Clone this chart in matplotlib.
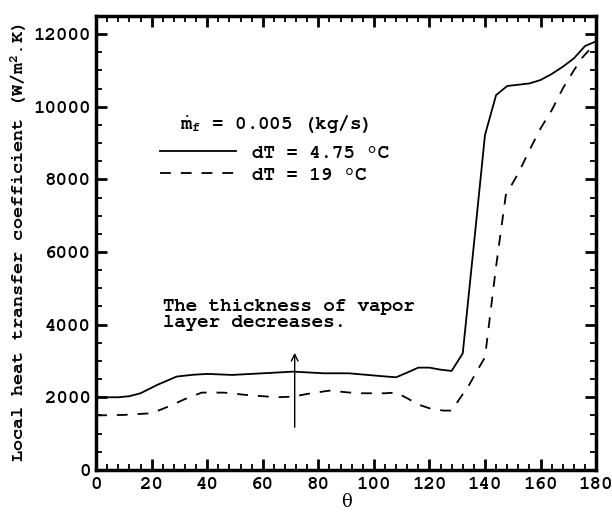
import matplotlib
matplotlib.use("Agg")
import matplotlib.pyplot as plt
from matplotlib.ticker import MultipleLocator
from matplotlib import font_manager

names = sorted({f.name for f in font_manager.fontManager.ttflist})
mono_pref = ['Courier New', 'Nimbus Mono PS', 'FreeMono', 'Courier', 'Liberation Mono']
MONO = next((n for n in mono_pref if n in names), 'Liberation Mono')

plt.rcParams['font.family'] = [MONO, 'DejaVu Sans']
plt.rcParams['font.weight'] = 'bold'
plt.rcParams['mathtext.fontset'] = 'custom'
plt.rcParams['mathtext.rm'] = MONO + ':bold'
plt.rcParams['mathtext.it'] = MONO + ':bold'
plt.rcParams['mathtext.bf'] = MONO + ':bold'

# dT = 4.75 C (solid)
theta_a = [0, 8, 12, 16, 22, 29, 35, 40, 49, 60, 71, 82, 91, 97, 103, 108, 112, 116, 120, 124, 128, 132,
           136, 140, 144, 148, 156, 160, 164, 168, 172, 176, 180]
h_a = [2000, 2000, 2030, 2110, 2340, 2570, 2620, 2643, 2615, 2660, 2706, 2660, 2660, 2620, 2580, 2550,
       2680, 2816, 2816, 2760, 2725, 3210, 6200, 9220, 10320, 10570, 10640, 10735, 10900, 11100, 11330,
       11670, 11800]

# dT = 19 C (dashed)
theta_b = [0, 10, 20, 26, 32, 38, 46, 54, 65, 71, 76, 84, 94, 104, 108, 112, 116, 120, 125, 128, 131,
           134, 137, 140, 144, 147.5, 152, 156, 160, 164, 168, 172, 175, 178, 180]
h_b = [1500, 1514, 1560, 1743, 1950, 2128, 2128, 2064, 2000, 2018, 2092, 2183, 2110, 2110, 2130, 1973,
       1800, 1697, 1633, 1633, 1973, 2300, 2706, 3100, 5600, 7570, 8166, 8800, 9400, 9900, 10500,
       11000, 11350, 11600, 11700]

arrow_x = 71.5
arrow_y0, arrow_y1 = 1100, 3300

fig = plt.figure(figsize=(6.12, 5.13), dpi=100)
ax = fig.add_axes([0.157, 0.084, 0.817, 0.885])

l1, = ax.plot(theta_a, h_a, color='black', lw=1.3, ls='-', label='dT = 4.75 °C')
l2, = ax.plot(theta_b, h_b, color='black', lw=1.3, ls=(0, (6, 5.5)), label='dT = 19 °C')

ax.set_xlim(0, 180)
ax.set_ylim(0, 12500)
ax.xaxis.set_major_locator(MultipleLocator(20))
ax.xaxis.set_minor_locator(MultipleLocator(4))
ax.yaxis.set_major_locator(MultipleLocator(2000))
ax.yaxis.set_minor_locator(MultipleLocator(500))
ax.tick_params(which='both', direction='in', top=True, right=True, labelsize=13.8, width=1.3)
ax.tick_params(which='major', length=8, width=2)
ax.tick_params(which='minor', length=4)
ax.tick_params(axis='x', pad=5)
ax.tick_params(axis='y', pad=4)
for s in ax.spines.values():
    s.set_linewidth(2.5)

ax.set_xlabel('θ', fontsize=13, fontweight='normal', family='DejaVu Serif', labelpad=0)
ax.set_ylabel('Local heat transfer coefficient (W/m$^2$.K)', fontsize=13.3, fontweight='bold', labelpad=3)

leg = ax.legend(handles=[l1, l2], title=r'$\dot{\mathrm{m}}_\mathrm{f}$ = 0.005 (kg/s)',
                loc='upper left', bbox_to_anchor=(0.112, 0.803), frameon=False,
                fontsize=13.8, title_fontsize=13.8, handlelength=4.0, handletextpad=0.8,
                labelspacing=0.22, borderaxespad=0)
leg._legend_box.sep = 7
for t in leg.get_texts():
    t.set_fontweight('bold')
leg.get_title().set_fontweight('bold')

ax.text(24.2, 4700, 'The thickness of vapor\nlayer decreases.', fontsize=13.8, fontweight='bold',
        va='top', ha='left', linespacing=0.95)
ax.annotate('', xy=(arrow_x, arrow_y1), xytext=(arrow_x, arrow_y0),
            arrowprops=dict(arrowstyle='->', color='black', lw=1.0, mutation_scale=12))

fig.savefig('out.png', dpi=100)
